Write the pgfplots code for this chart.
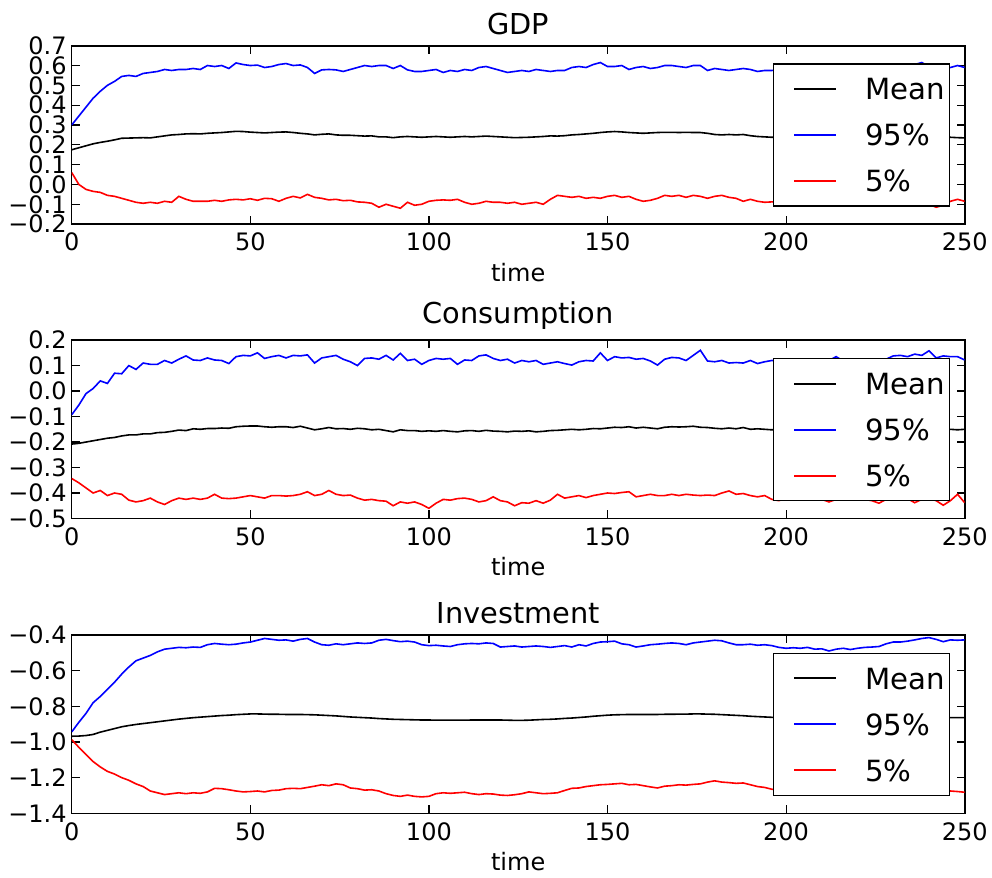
\documentclass[border=0pt]{standalone}
\usepackage{pgfplots}
\pgfplotsset{compat=1.18}
\usepackage{pgfplotstable}
\usepackage{fontspec}
\setmainfont{DejaVu Sans}

\pgfplotstableread{
t mean hi lo
0 0.175 0.300 0.060
2 0.185 0.345 0.000
4 0.195 0.390 -0.025
6 0.205 0.435 -0.035
8 0.212 0.470 -0.040
10 0.218 0.500 -0.055
12 0.225 0.520 -0.060
14 0.233 0.545 -0.070
16 0.234 0.550 -0.080
18 0.235 0.545 -0.090
20 0.236 0.560 -0.095
22 0.235 0.565 -0.090
24 0.240 0.570 -0.095
26 0.245 0.580 -0.085
28 0.250 0.575 -0.090
30 0.252 0.580 -0.060
32 0.255 0.580 -0.075
34 0.256 0.585 -0.085
36 0.255 0.580 -0.085
38 0.258 0.600 -0.085
40 0.260 0.595 -0.080
42 0.262 0.600 -0.085
44 0.265 0.585 -0.078
46 0.268 0.613 -0.075
48 0.267 0.605 -0.078
50 0.264 0.600 -0.072
52 0.262 0.602 -0.080
54 0.260 0.590 -0.070
56 0.262 0.595 -0.072
58 0.264 0.605 -0.085
60 0.265 0.610 -0.070
62 0.262 0.600 -0.060
64 0.258 0.603 -0.068
66 0.255 0.590 -0.050
68 0.250 0.560 -0.065
70 0.253 0.578 -0.070
72 0.255 0.580 -0.078
74 0.250 0.578 -0.075
76 0.248 0.570 -0.082
78 0.248 0.580 -0.080
80 0.246 0.590 -0.088
82 0.244 0.600 -0.090
84 0.245 0.595 -0.095
86 0.240 0.600 -0.115
88 0.240 0.600 -0.100
90 0.236 0.585 -0.110
92 0.240 0.600 -0.120
94 0.242 0.578 -0.090
96 0.240 0.570 -0.105
98 0.238 0.570 -0.100
100 0.240 0.575 -0.085
102 0.242 0.580 -0.080
104 0.240 0.565 -0.078
106 0.238 0.575 -0.080
108 0.240 0.570 -0.075
110 0.242 0.580 -0.090
112 0.240 0.575 -0.100
114 0.242 0.590 -0.095
116 0.244 0.595 -0.085
118 0.242 0.585 -0.090
120 0.240 0.575 -0.090
122 0.238 0.565 -0.095
124 0.236 0.570 -0.090
126 0.237 0.575 -0.100
128 0.238 0.570 -0.095
130 0.240 0.580 -0.090
132 0.242 0.575 -0.100
134 0.245 0.570 -0.075
136 0.244 0.575 -0.055
138 0.246 0.575 -0.060
140 0.250 0.590 -0.065
142 0.252 0.595 -0.060
144 0.255 0.590 -0.070
146 0.258 0.605 -0.065
148 0.262 0.615 -0.070
150 0.265 0.595 -0.060
152 0.267 0.595 -0.055
154 0.265 0.600 -0.065
156 0.262 0.580 -0.060
158 0.260 0.590 -0.075
160 0.258 0.595 -0.085
162 0.260 0.585 -0.080
164 0.262 0.590 -0.070
166 0.263 0.600 -0.055
168 0.263 0.600 -0.060
170 0.262 0.595 -0.055
172 0.263 0.590 -0.065
174 0.262 0.600 -0.055
176 0.262 0.600 -0.060
178 0.258 0.575 -0.070
180 0.252 0.585 -0.060
182 0.250 0.580 -0.055
184 0.252 0.575 -0.065
186 0.250 0.580 -0.070
188 0.252 0.585 -0.085
190 0.246 0.580 -0.075
192 0.242 0.570 -0.085
194 0.240 0.575 -0.090
196 0.238 0.575 -0.088
198 0.240 0.580 -0.090
200 0.242 0.585 -0.085
202 0.240 0.575 -0.095
204 0.238 0.590 -0.090
206 0.240 0.580 -0.080
208 0.242 0.585 -0.095
210 0.240 0.575 -0.090
212 0.238 0.590 -0.100
214 0.240 0.585 -0.085
216 0.242 0.580 -0.090
218 0.240 0.595 -0.095
220 0.238 0.585 -0.090
222 0.240 0.580 -0.085
224 0.242 0.590 -0.095
226 0.240 0.585 -0.090
228 0.238 0.595 -0.100
230 0.240 0.590 -0.090
232 0.242 0.585 -0.085
234 0.240 0.595 -0.095
236 0.238 0.605 -0.090
238 0.240 0.615 -0.095
240 0.240 0.595 -0.100
242 0.238 0.585 -0.115
244 0.236 0.580 -0.105
246 0.238 0.590 -0.085
248 0.236 0.600 -0.075
250 0.235 0.590 -0.085
}\gdptab

\pgfplotstableread{
t mean hi lo
0 -0.208 -0.093 -0.343
2 -0.205 -0.055 -0.360
4 -0.200 -0.010 -0.380
6 -0.195 0.010 -0.400
8 -0.190 0.040 -0.390
10 -0.185 0.030 -0.410
12 -0.182 0.070 -0.400
14 -0.176 0.068 -0.405
16 -0.172 0.100 -0.428
18 -0.172 0.085 -0.435
20 -0.168 0.110 -0.430
22 -0.168 0.105 -0.420
24 -0.163 0.105 -0.435
26 -0.162 0.120 -0.445
28 -0.158 0.110 -0.430
30 -0.153 0.125 -0.420
32 -0.155 0.138 -0.425
34 -0.148 0.122 -0.420
36 -0.150 0.120 -0.425
38 -0.147 0.130 -0.420
40 -0.147 0.122 -0.405
42 -0.145 0.120 -0.420
44 -0.146 0.108 -0.422
46 -0.140 0.135 -0.420
48 -0.138 0.140 -0.415
50 -0.137 0.138 -0.410
52 -0.137 0.150 -0.415
54 -0.140 0.128 -0.420
56 -0.142 0.135 -0.410
58 -0.140 0.140 -0.410
60 -0.140 0.130 -0.412
62 -0.143 0.140 -0.410
64 -0.138 0.138 -0.405
66 -0.145 0.142 -0.395
68 -0.152 0.110 -0.410
70 -0.148 0.130 -0.405
72 -0.143 0.135 -0.390
74 -0.148 0.140 -0.405
76 -0.147 0.125 -0.410
78 -0.150 0.115 -0.408
80 -0.146 0.100 -0.420
82 -0.148 0.128 -0.428
84 -0.152 0.130 -0.425
86 -0.150 0.125 -0.430
88 -0.155 0.140 -0.432
90 -0.160 0.122 -0.450
92 -0.152 0.148 -0.435
94 -0.155 0.120 -0.440
96 -0.155 0.125 -0.435
98 -0.158 0.105 -0.445
100 -0.156 0.120 -0.460
102 -0.158 0.128 -0.440
104 -0.155 0.125 -0.425
106 -0.158 0.128 -0.428
108 -0.160 0.105 -0.422
110 -0.156 0.122 -0.420
112 -0.155 0.120 -0.425
114 -0.158 0.138 -0.435
116 -0.154 0.142 -0.430
118 -0.157 0.128 -0.415
120 -0.158 0.120 -0.430
122 -0.160 0.125 -0.435
124 -0.157 0.110 -0.450
126 -0.158 0.120 -0.438
128 -0.156 0.115 -0.440
130 -0.160 0.120 -0.430
132 -0.158 0.105 -0.440
134 -0.155 0.110 -0.428
136 -0.154 0.115 -0.405
138 -0.152 0.108 -0.420
140 -0.150 0.102 -0.415
142 -0.152 0.115 -0.410
144 -0.150 0.120 -0.418
146 -0.147 0.118 -0.410
148 -0.148 0.150 -0.405
150 -0.145 0.120 -0.400
152 -0.142 0.135 -0.402
154 -0.143 0.130 -0.398
156 -0.140 0.132 -0.395
158 -0.145 0.125 -0.415
160 -0.142 0.128 -0.410
162 -0.145 0.118 -0.405
164 -0.148 0.102 -0.410
166 -0.142 0.125 -0.410
168 -0.140 0.132 -0.405
170 -0.141 0.130 -0.410
172 -0.140 0.120 -0.405
174 -0.138 0.140 -0.408
176 -0.142 0.160 -0.410
178 -0.143 0.118 -0.408
180 -0.146 0.115 -0.410
182 -0.148 0.120 -0.400
184 -0.145 0.110 -0.392
186 -0.148 0.112 -0.405
188 -0.143 0.110 -0.402
190 -0.150 0.120 -0.410
192 -0.148 0.108 -0.415
194 -0.150 0.115 -0.410
196 -0.152 0.120 -0.425
198 -0.150 0.118 -0.430
200 -0.152 0.115 -0.420
202 -0.150 0.120 -0.425
204 -0.153 0.112 -0.420
206 -0.150 0.118 -0.428
208 -0.152 0.122 -0.420
210 -0.151 0.115 -0.425
212 -0.150 0.120 -0.435
214 -0.152 0.135 -0.425
216 -0.150 0.118 -0.420
218 -0.151 0.112 -0.428
220 -0.153 0.120 -0.422
222 -0.150 0.115 -0.425
224 -0.152 0.122 -0.430
226 -0.150 0.118 -0.440
228 -0.151 0.125 -0.425
230 -0.150 0.138 -0.420
232 -0.152 0.140 -0.428
234 -0.150 0.135 -0.422
236 -0.151 0.145 -0.438
238 -0.150 0.140 -0.425
240 -0.152 0.158 -0.420
242 -0.150 0.130 -0.430
244 -0.151 0.138 -0.448
246 -0.150 0.135 -0.430
248 -0.152 0.135 -0.405
250 -0.150 0.122 -0.438
}\constab

\pgfplotstableread{
t mean hi lo
0 -0.968 -0.944 -0.987
2 -0.967 -0.890 -1.030
4 -0.964 -0.840 -1.070
6 -0.958 -0.780 -1.110
8 -0.945 -0.745 -1.140
10 -0.935 -0.705 -1.165
12 -0.925 -0.665 -1.180
14 -0.915 -0.620 -1.200
16 -0.908 -0.580 -1.215
18 -0.902 -0.545 -1.235
20 -0.897 -0.530 -1.250
22 -0.892 -0.515 -1.275
24 -0.887 -0.495 -1.285
26 -0.882 -0.480 -1.295
28 -0.877 -0.475 -1.290
30 -0.872 -0.470 -1.285
32 -0.868 -0.472 -1.290
34 -0.864 -0.468 -1.285
36 -0.861 -0.470 -1.288
38 -0.858 -0.455 -1.280
40 -0.855 -0.448 -1.260
42 -0.852 -0.452 -1.262
44 -0.850 -0.455 -1.268
46 -0.847 -0.452 -1.275
48 -0.845 -0.445 -1.280
50 -0.843 -0.440 -1.278
52 -0.843 -0.430 -1.275
54 -0.844 -0.420 -1.280
56 -0.845 -0.425 -1.272
58 -0.845 -0.430 -1.270
60 -0.846 -0.428 -1.262
62 -0.846 -0.435 -1.260
64 -0.846 -0.425 -1.262
66 -0.847 -0.420 -1.255
68 -0.848 -0.440 -1.248
70 -0.850 -0.455 -1.240
72 -0.852 -0.458 -1.245
74 -0.854 -0.450 -1.235
76 -0.857 -0.455 -1.240
78 -0.860 -0.450 -1.258
80 -0.862 -0.445 -1.262
82 -0.864 -0.448 -1.270
84 -0.866 -0.445 -1.268
86 -0.869 -0.430 -1.275
88 -0.871 -0.425 -1.290
90 -0.873 -0.432 -1.300
92 -0.874 -0.438 -1.305
94 -0.875 -0.435 -1.298
96 -0.876 -0.440 -1.305
98 -0.877 -0.455 -1.308
100 -0.877 -0.460 -1.305
102 -0.878 -0.458 -1.290
104 -0.878 -0.462 -1.285
106 -0.878 -0.465 -1.288
108 -0.878 -0.455 -1.285
110 -0.878 -0.450 -1.282
112 -0.877 -0.448 -1.290
114 -0.877 -0.450 -1.295
116 -0.877 -0.445 -1.290
118 -0.877 -0.448 -1.292
120 -0.877 -0.468 -1.298
122 -0.878 -0.465 -1.300
124 -0.879 -0.462 -1.296
126 -0.879 -0.468 -1.290
128 -0.878 -0.465 -1.280
130 -0.876 -0.462 -1.285
132 -0.874 -0.465 -1.290
134 -0.873 -0.470 -1.288
136 -0.871 -0.465 -1.285
138 -0.868 -0.460 -1.272
140 -0.866 -0.468 -1.260
142 -0.863 -0.455 -1.258
144 -0.860 -0.462 -1.250
146 -0.856 -0.448 -1.245
148 -0.853 -0.440 -1.240
150 -0.850 -0.438 -1.238
152 -0.848 -0.435 -1.235
154 -0.847 -0.450 -1.232
156 -0.846 -0.455 -1.240
158 -0.846 -0.468 -1.238
160 -0.846 -0.462 -1.245
162 -0.846 -0.455 -1.252
164 -0.846 -0.452 -1.258
166 -0.845 -0.448 -1.248
168 -0.845 -0.445 -1.245
170 -0.844 -0.448 -1.240
172 -0.844 -0.455 -1.242
174 -0.843 -0.445 -1.238
176 -0.843 -0.440 -1.235
178 -0.844 -0.435 -1.225
180 -0.845 -0.430 -1.218
182 -0.847 -0.433 -1.225
184 -0.849 -0.445 -1.228
186 -0.851 -0.455 -1.232
188 -0.853 -0.455 -1.230
190 -0.856 -0.452 -1.240
192 -0.858 -0.458 -1.250
194 -0.860 -0.455 -1.255
196 -0.862 -0.460 -1.265
198 -0.864 -0.470 -1.270
200 -0.866 -0.475 -1.272
202 -0.867 -0.472 -1.275
204 -0.867 -0.475 -1.270
206 -0.867 -0.470 -1.278
208 -0.867 -0.480 -1.275
210 -0.866 -0.478 -1.280
212 -0.866 -0.490 -1.285
214 -0.866 -0.480 -1.282
216 -0.866 -0.475 -1.288
218 -0.866 -0.482 -1.285
220 -0.865 -0.475 -1.290
222 -0.865 -0.470 -1.285
224 -0.865 -0.468 -1.282
226 -0.865 -0.465 -1.280
228 -0.865 -0.450 -1.285
230 -0.865 -0.440 -1.282
232 -0.865 -0.440 -1.278
234 -0.864 -0.435 -1.280
236 -0.864 -0.428 -1.275
238 -0.864 -0.420 -1.278
240 -0.864 -0.415 -1.280
242 -0.864 -0.425 -1.282
244 -0.864 -0.438 -1.278
246 -0.864 -0.428 -1.275
248 -0.864 -0.430 -1.278
250 -0.864 -0.428 -1.282
}\invtab

\pgfplotsset{
  legend image code/.code={\path[draw=none,fill=none] (0pt,-1pt) rectangle (29.1pt,1pt); \fill[#1] (8.1pt,-0.5pt) rectangle (29.1pt,0.5pt);},
  panel/.style={
    scale only axis, width=446.5pt, height=89.2pt,
    anchor=north west,
    xmin=0, xmax=250,
    xtick={0,50,100,150,200,250},
    xticklabels={0,50,100,150,200,250},
    tick align=inside, major tick length=4pt,
    axis line style={line width=0.8pt},
    every tick/.style={black, line width=0.6pt},
    ticklabel style={font=\fontsize{12}{14}\selectfont},
    xticklabel style={yshift=-1pt},
    yticklabel style={xshift=1pt},
    xlabel={time},
    xlabel style={font=\fontsize{12}{14}\selectfont, yshift=1pt},
    title style={font=\fontsize{14.4}{17}\selectfont, yshift=-4pt},
    legend style={at={(1,1)}, anchor=north east, xshift=-7.2pt, yshift=-8.8pt,
      font=\fontsize{14.6}{17}\selectfont, draw=black, fill=white, line width=0.8pt,
      inner xsep=2.3pt, inner ysep=7.2pt, row sep=12.35pt, column sep=14.6pt,
      nodes={inner sep=0pt, text height=10.65pt, text depth=0pt}},
    legend cell align=left,
    every axis plot/.append style={line width=0.8pt},
  }
}

\begin{document}
\begin{tikzpicture}
\begin{axis}[panel, at={(0pt,0pt)}, title={GDP},
  ymin=-0.2, ymax=0.7,
  ytick={-0.2,-0.1,0,0.1,0.2,0.3,0.4,0.5,0.6,0.7},
  yticklabels={−0.2,−0.1,0.0,0.1,0.2,0.3,0.4,0.5,0.6,0.7}]
\addlegendimage{fill=black, draw=none}
\addlegendimage{fill=blue, draw=none}
\addlegendimage{fill=red, draw=none}
\addplot[black, forget plot] table[x=t,y=mean]{\gdptab};
\addplot[blue, forget plot] table[x=t,y=hi]{\gdptab};
\addplot[red, forget plot] table[x=t,y=lo]{\gdptab};
\legend{Mean,95\%,5\%}
\end{axis}
\begin{axis}[panel, at={(0pt,-147.2pt)}, title={Consumption},
  ymin=-0.5, ymax=0.2,
  ytick={-0.5,-0.4,-0.3,-0.2,-0.1,0,0.1,0.2},
  yticklabels={−0.5,−0.4,−0.3,−0.2,−0.1,0.0,0.1,0.2}]
\addlegendimage{fill=black, draw=none}
\addlegendimage{fill=blue, draw=none}
\addlegendimage{fill=red, draw=none}
\addplot[black, forget plot] table[x=t,y=mean]{\constab};
\addplot[blue, forget plot] table[x=t,y=hi]{\constab};
\addplot[red, forget plot] table[x=t,y=lo]{\constab};
\legend{Mean,95\%,5\%}
\end{axis}
\begin{axis}[panel, at={(0pt,-294.6pt)}, title={Investment},
  ymin=-1.4, ymax=-0.4,
  ytick={-1.4,-1.2,-1.0,-0.8,-0.6,-0.4},
  yticklabels={−1.4,−1.2,−1.0,−0.8,−0.6,−0.4}]
\addlegendimage{fill=black, draw=none}
\addlegendimage{fill=blue, draw=none}
\addlegendimage{fill=red, draw=none}
\addplot[black, forget plot] table[x=t,y=mean]{\invtab};
\addplot[blue, forget plot] table[x=t,y=hi]{\invtab};
\addplot[red, forget plot] table[x=t,y=lo]{\invtab};
\legend{Mean,95\%,5\%}
\end{axis}
\pgfresetboundingbox
\path[use as bounding box] (-35.85pt,-416.15pt) rectangle (460.15pt,22.85pt);
\end{tikzpicture}
\end{document}
